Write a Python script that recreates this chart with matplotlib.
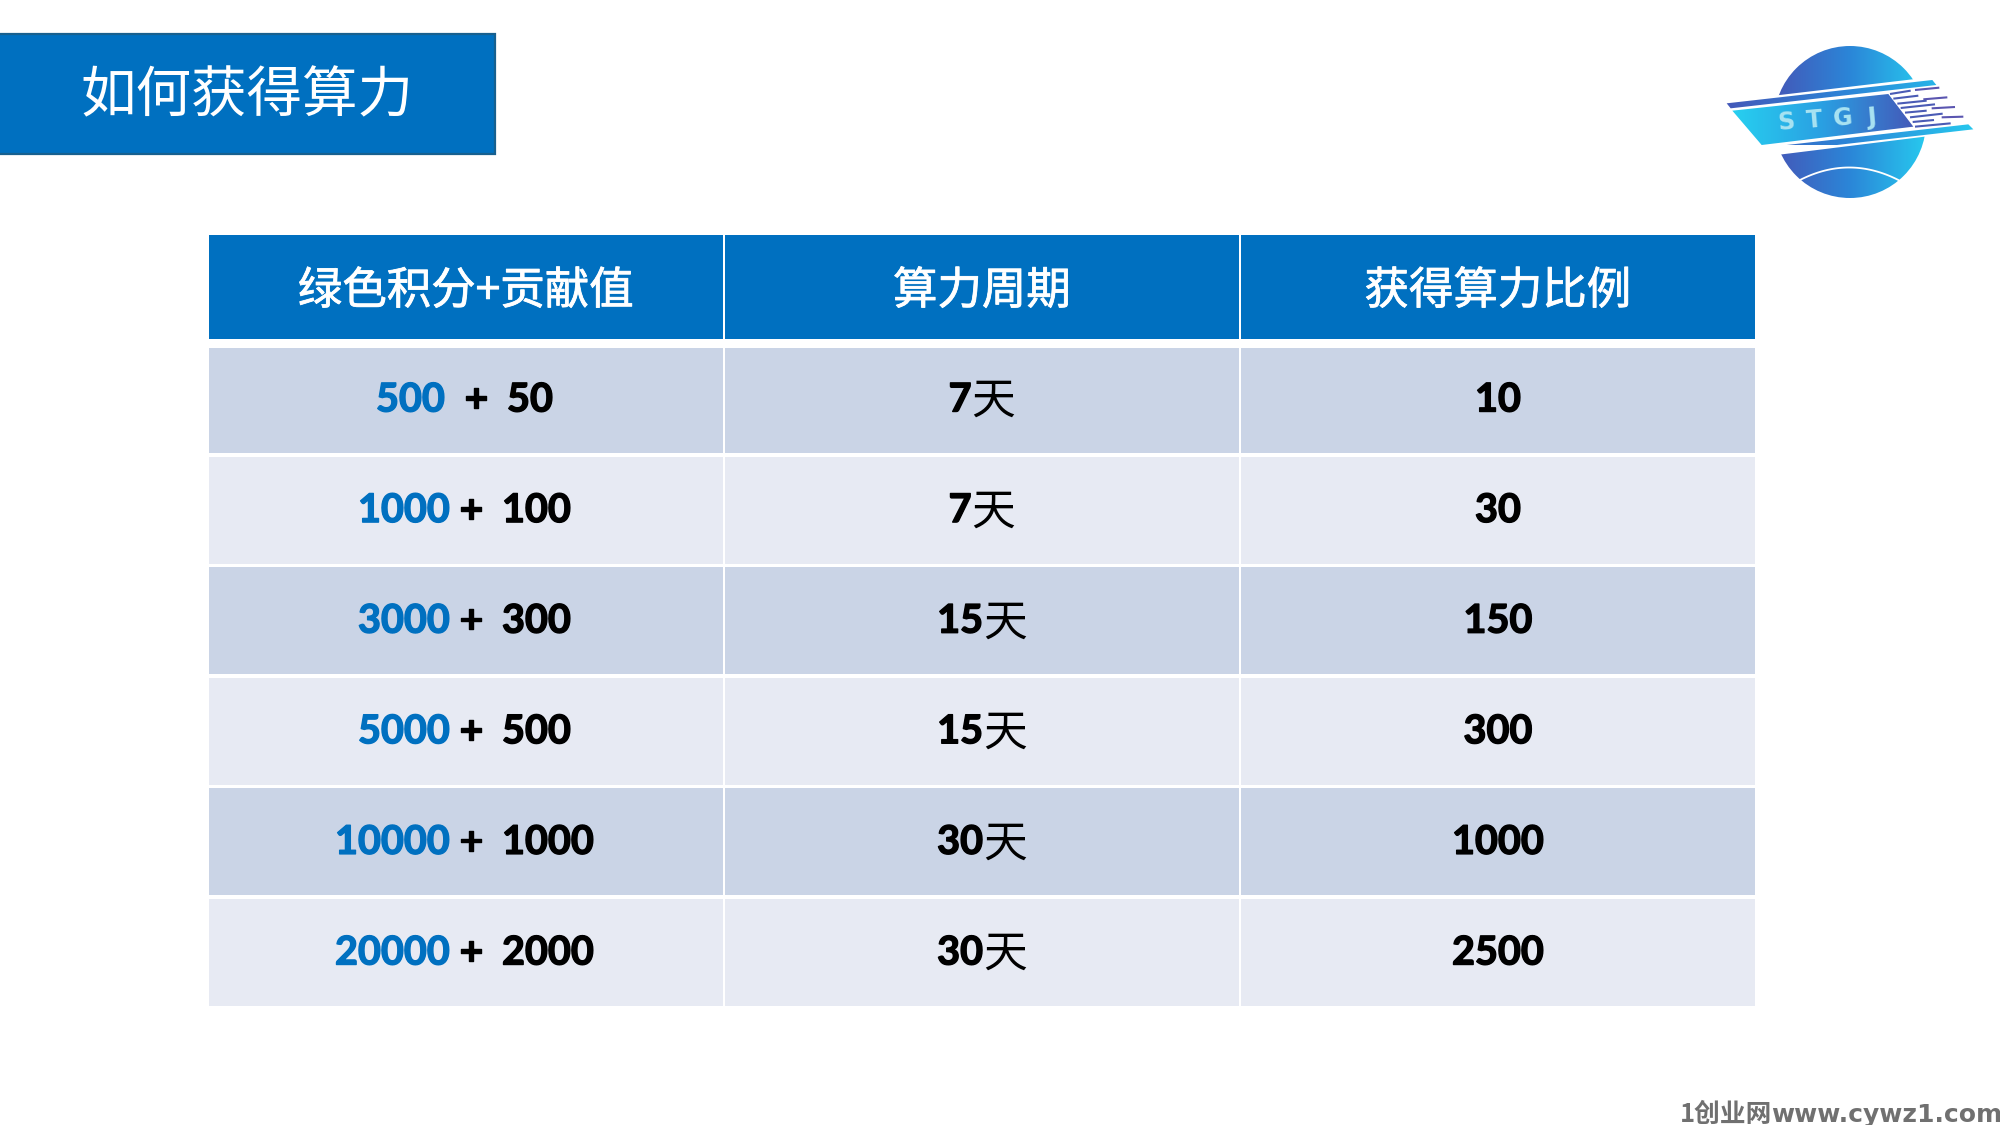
import matplotlib
import numpy as np

matplotlib.use('agg')

import matplotlib.pyplot as plt
import matplotlib.patheffects as pe
from matplotlib.colors import LinearSegmentedColormap
from matplotlib.patches import Circle, Polygon, Rectangle

CJK = 'Noto Sans CJK SC'
LATIN = 'Lato'

title = '如何获得算力'
headers = ['绿色积分+贡献值', '算力周期', '获得算力比例']
green_points = ['500', '1000', '3000', '5000', '10000', '20000']
contribution = ['50', '100', '300', '500', '1000', '2000']
period_days = ['7', '7', '15', '15', '30', '30']
power_ratio = ['10', '30', '150', '300', '1000', '2500']

BLUE = '#0070c0'
ROW_DARK = '#cad4e6'
ROW_LIGHT = '#e7eaf3'

col_left = [209, 725, 1241]
col_width = 514
head_top, head_h = 235, 104
row_top, row_h, row_pitch = 346, 107, 110.6

fig = plt.figure(figsize=(20, 11.25), dpi=100, facecolor='white')
ax = fig.add_axes([0, 0, 1, 1])
ax.set_xlim(0, 2000)
ax.set_ylim(1125, 0)
ax.axis('off')

# Lato bold is lighter than the slide's font, thicken it a bit
heavy = [pe.withStroke(linewidth=1.0, foreground='black')]
heavy_blue = [pe.withStroke(linewidth=1.0, foreground=BLUE)]
thick_white = [pe.withStroke(linewidth=0.6, foreground='white')]


def text_width(txt):
  return txt.get_window_extent(fig.canvas.get_renderer()).width


def num_text(x, y, s, ha, color='black'):
  return ax.text(x, y, s, family=LATIN, weight='bold', fontsize=28.5, color=color, ha=ha, va='center',
                 path_effects=heavy_blue if color == BLUE else heavy)


# title block
ax.add_patch(Rectangle((-3, 34), 498, 120, fc=BLUE, ec='#17608f', lw=1.6))
ax.text(247, 97, title, family=CJK, fontsize=40, color='white', ha='center', va='center')

# header
for left, head in zip(col_left, headers):
  ax.add_patch(Rectangle((left, head_top), col_width, head_h, fc=BLUE, ec='none'))
  ax.text(left + col_width / 2, head_top + head_h / 2 + 4, head, family=[CJK, 'DejaVu Sans'],
          fontsize=32, color='white', ha='center', va='center', path_effects=thick_white)

# rows
for i in range(len(green_points)):
  top = row_top + i * row_pitch
  mid = 400 + i * row_pitch
  for left in col_left:
    # first row starts a touch lower than the pitch gives
    cell_top = max(top, 348)
    ax.add_patch(Rectangle((left, cell_top), col_width, top + row_h - cell_top,
                           fc=ROW_DARK if i % 2 == 0 else ROW_LIGHT, ec='none'))

  # first row sits a little to the right in the source slide
  shift = 5 if i == 0 else 0
  num_text(450 - shift, mid, green_points[i], 'right', BLUE)
  num_text(471 + shift, mid, '+', 'center')
  num_text(502 + shift, mid, contribution[i], 'left')

  # digits are bold latin, the day sign is regular CJK
  cx = col_left[1] + col_width / 2
  num = num_text(cx, mid, period_days[i], 'left')
  day = ax.text(cx, mid + 1, '天', family=CJK, fontsize=31.5, color='black', ha='left', va='center')
  w_num, w_day = text_width(num), text_width(day)
  num.set_x(cx - (w_num + w_day) / 2)
  day.set_x(cx - (w_num + w_day) / 2 + w_num)

  num_text(col_left[2] + col_width / 2, mid, power_ratio[i], 'center')

# logo
logo_cmap = LinearSegmentedColormap.from_list('logo', ['#4458b8', '#2b86d8', '#27c8ee'])
logo_cmap_rev = LinearSegmentedColormap.from_list('logo_rev', ['#27d0f0', '#2a9fe2', '#4458b8'])
grad = np.linspace(0, 1, 256).reshape(1, -1)


def to_px(points):
  return [(1700 + x / 3, 20 + y / 3) for x, y in points]


disc = Circle((1850, 122), 76, transform=ax.transData, fc='none', ec='none')
ax.add_patch(disc)
im = ax.imshow(grad, cmap=logo_cmap, extent=(1775, 1925, 198, 46), aspect='auto', zorder=2)
im.set_clip_path(disc)

# white halo behind the band
ax.add_patch(Polygon(to_px([(70, 245), (705, 170), (835, 330), (190, 410)]), fc='white', ec='none', zorder=3))

band = Polygon(to_px([(97, 272), (565, 222), (640, 320), (185, 375)]), fc='none', ec='none', zorder=4)
ax.add_patch(band)
im2 = ax.imshow(grad, cmap=logo_cmap_rev, extent=(1732, 1915, 145, 90), aspect='auto', zorder=4)
im2.set_clip_path(band)

for pts, color in [
  ([(80, 250), (697, 180), (709, 195), (92, 265)], '#2f7fd4'),
  ([(190, 383), (805, 313), (820, 328), (202, 399)], '#2f8cdc'),
]:
  strip = Polygon(to_px(pts), fc='none', ec='none', zorder=4)
  ax.add_patch(strip)
  im3 = ax.imshow(grad, cmap=logo_cmap, extent=(1725, 1975, 145, 80), aspect='auto', zorder=4)
  im3.set_clip_path(strip)

# speed lines on the right of the band
for p0, p1, c in [
  ((570, 222), (632, 212), '#4a5bb5'), ((645, 210), (718, 203), '#5a55b0'),
  ((580, 236), (655, 227), '#4a5bb5'), ((670, 238), (742, 232), '#5a55b0'),
  ((592, 251), (680, 242), '#4a5bb5'), ((695, 265), (765, 261), '#5a55b0'),
  ((602, 264), (705, 253), '#4a5bb5'), ((725, 292), (790, 290), '#5a55b0'),
  ((615, 278), (680, 272), '#4a5bb5'), ((630, 292), (728, 281), '#4a5bb5'),
  ((638, 306), (702, 300), '#4a5bb5'), ((645, 320), (752, 310), '#4a5bb5'),
]:
  (x0, y0), (x1, y1) = to_px([p0, p1])
  ax.plot([x0, x1], [y0, y1], color=c, lw=1.5, zorder=5, solid_capstyle='butt')

arc_t = np.linspace(0, 1, 40)
arc = to_px([(300 + 295 * t, 480 - 150 * t * (1 - t)) for t in arc_t])
ax.plot([p[0] for p in arc], [p[1] for p in arc], color='white', lw=1.3, zorder=5)

for letter, zx, zy in [('S', 258, 308), ('T', 342, 302), ('G', 430, 296), ('J', 515, 292)]:
  ax.text(1700 + zx / 3, 20 + zy / 3, letter, family='DejaVu Sans', weight='bold', fontsize=17,
          color='#a9e3f2', ha='center', va='center', rotation=5, zorder=6)

# watermark, runs right up to the edge
ax.text(1680, 1122, '1创业网', family=CJK, weight='bold', fontsize=18.5, color='#707070', ha='left', va='baseline')
ax.text(1771, 1122, 'www.cywz1.com', family='DejaVu Sans', weight='bold', fontsize=18, color='#707070', ha='left', va='baseline')

ax.set_xlim(0, 2000)
ax.set_ylim(1125, 0)
fig.savefig('out.png', dpi=100)
plt.close(fig)
